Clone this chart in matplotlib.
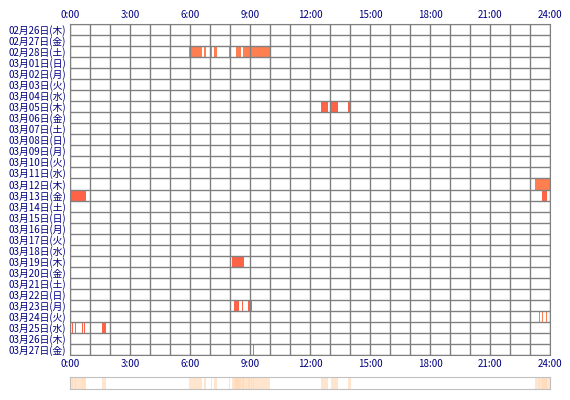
import matplotlib
matplotlib.use('Agg')
import matplotlib.pyplot as plt

plt.rcParams['font.family'] = ['Noto Sans CJK JP', 'DejaVu Sans']

days = ['02月26日(木)', '02月27日(金)', '02月28日(土)', '03月01日(日)', '03月02日(月)',
        '03月03日(火)', '03月04日(水)', '03月05日(木)', '03月06日(金)', '03月07日(土)',
        '03月08日(日)', '03月09日(月)', '03月10日(火)', '03月11日(水)', '03月12日(木)',
        '03月13日(金)', '03月14日(土)', '03月15日(日)', '03月16日(月)', '03月17日(火)',
        '03月18日(水)', '03月19日(木)', '03月20日(金)', '03月21日(土)', '03月22日(日)',
        '03月23日(月)', '03月24日(火)', '03月25日(水)', '03月26日(木)', '03月27日(金)']
# (row label, start hour, end hour, colour)
segments = [
    ('02月28日(土)', 5.95, 6.6, '#FF7F50'), ('02月28日(土)', 6.7, 6.8, '#FF7F50'),
    ('02月28日(土)', 7.03, 7.12, '#FF7F50'), ('02月28日(土)', 7.22, 7.35, '#FF7F50'),
    ('02月28日(土)', 7.95, 8.0, '#FF7F50'), ('02月28日(土)', 8.28, 8.53, '#FF7F50'),
    ('02月28日(土)', 8.63, 9.0, '#FF7F50'), ('02月28日(土)', 9.05, 10.0, '#FF7F50'),
    ('03月05日(木)', 12.55, 12.88, '#FF6347'), ('03月05日(木)', 13.03, 13.38, '#FF6347'),
    ('03月05日(木)', 13.9, 14.05, '#FF6347'),
    ('03月12日(木)', 23.25, 24.0, '#FF7F50'),
    ('03月13日(金)', 0.0, 0.8, '#FF6347'), ('03月13日(金)', 23.6, 23.83, '#FF6347'),
    ('03月19日(木)', 8.1, 8.7, '#FF6347'),
    ('03月23日(月)', 8.2, 8.45, '#FF6347'), ('03月23日(月)', 8.58, 8.63, '#FF6347'),
    ('03月23日(月)', 8.88, 9.08, '#FF6347'),
    ('03月24日(火)', 23.45, 23.5, '#FF7F50'), ('03月24日(火)', 23.6, 23.65, '#FF7F50'),
    ('03月24日(火)', 23.8, 23.85, '#FF7F50'),
    ('03月25日(水)', 0.08, 0.13, '#FF6347'), ('03月25日(水)', 0.27, 0.3, '#FF6347'),
    ('03月25日(水)', 0.6, 0.65, '#FF6347'), ('03月25日(水)', 0.7, 0.75, '#FF6347'),
    ('03月25日(水)', 1.6, 1.8, '#FF6347'),
    ('03月27日(金)', 9.15, 9.2, '#FF6347'),
]
tick_hours = [0, 3, 6, 9, 12, 15, 18, 21, 24]
tick_labels = ['0:00', '3:00', '6:00', '9:00', '12:00', '15:00', '18:00', '21:00', '24:00']
n = len(days)

fig = plt.figure(figsize=(5.7, 4.0), dpi=100)
ax = fig.add_axes([70/570, 45/400, 480/570, 331/400])
for lab, s, e, c in segments:
    r = days.index(lab)
    ax.barh(r, e - s, left=s, height=1.0, color=c, linewidth=0)
ax.set_xlim(0, 24)
ax.set_ylim(n - 0.5, -0.5)
for h in range(25):
    ax.axvline(h, color='#808080', lw=1)
for k in range(n + 1):
    ax.axhline(k - 0.5, color='#808080', lw=1)
for sp in ax.spines.values():
    sp.set_color('#808080')
ax.set_yticks(range(n))
ax.set_yticklabels(days, fontsize=7, color='#000080')
ax.set_xticks(tick_hours)
ax.set_xticklabels(tick_labels, fontsize=7, color='#000080')
ax.tick_params(length=0, pad=3, labeltop=True)

# summary strip
ax2 = fig.add_axes([70/570, 11/400, 480/570, 12/400])
for lab, s, e, c in segments:
    ax2.axvspan(s, e, color='#FFDAB9', alpha=0.7, lw=0)
ax2.set_xlim(0, 24)
ax2.set_xticks([])
ax2.set_yticks([])
for sp in ax2.spines.values():
    sp.set_color('#C0C0C0')

fig.savefig('out.png', dpi=100)
